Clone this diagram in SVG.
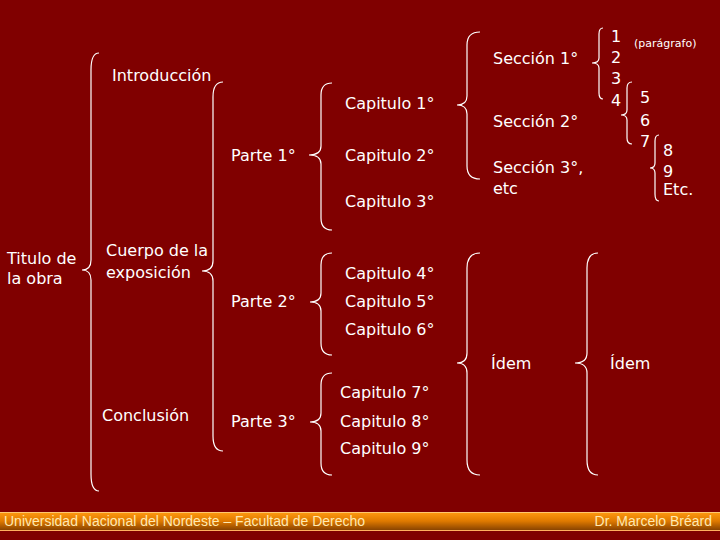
<svg xmlns="http://www.w3.org/2000/svg" width="720" height="540" viewBox="0 0 720 540">
<defs>
<linearGradient id="footerGrad" x1="0" y1="0" x2="0" y2="1">
<stop offset="0" stop-color="#ff9a10"/>
<stop offset="0.5" stop-color="#e07a00"/>
<stop offset="1" stop-color="#8a4400"/>
</linearGradient>
<style>
.t{font-family:"DejaVu Sans","Liberation Sans",sans-serif;font-size:16px;fill:#ffffff}
.s{font-family:"DejaVu Sans","Liberation Sans",sans-serif;font-size:11px;fill:#ffffff}
.b{fill:none;stroke:#ffffff;stroke-width:1.2}
.f{font-family:"Liberation Sans",Arial,sans-serif;font-size:14px;fill:#ffe9b0}
</style>
</defs>
<rect width="720" height="540" fill="#800000"/>
<g id="connectors">
<path class="b" d="M99,53 Q91,53 91,70 L91,260 Q91,270 82,270 Q91,270 91,280 L91,474 Q91,491 99,491"/>
<path class="b" d="M223,82 Q213,82 213,97 L213,261 Q213,271 202,271 Q213,271 213,281 L213,436 Q213,451 223,451"/>
<path class="b" d="M332,83 Q321,83 321,95 L321,146 Q321,155 309,155 Q321,155 321,164 L321,218 Q321,230 332,230"/>
<path class="b" d="M332,253 Q321,253 321,265 L321,293 Q321,302 310,302 Q321,302 321,311 L321,343 Q321,355 332,355"/>
<path class="b" d="M332,373 Q321,373 321,385 L321,413 Q321,422 310,422 Q321,422 321,431 L321,463 Q321,475 332,475"/>
<path class="b" d="M480,32 Q467,32 467,45 L467,96 Q467,105 457,105 Q467,105 467,114 L467,166 Q467,179 480,179"/>
<path class="b" d="M603,28 Q599,28 599,34 L599,58 Q599,63 592,63 Q599,63 599,68 L599,93 Q599,99 603,99"/>
<path class="b" d="M632,82 Q627,82 627,88 L627,110 Q627,115 621,115 Q627,115 627,120 L627,138 Q627,144 632,144"/>
<path class="b" d="M659,135 Q655,135 655,141 L655,163 Q655,168 650,168 Q655,168 655,173 L655,194 Q655,201 659,201"/>
<path class="b" d="M480,253 Q467,253 467,268 L467,353 Q467,363 457,363 Q467,363 467,373 L467,460 Q467,475 480,475"/>
<path class="b" d="M598,253 Q587,253 587,268 L587,353 Q587,363 575,363 Q587,363 587,373 L587,460 Q587,475 598,475"/>
</g>
<g id="titulo"><text class="t" x="7" y="264">Titulo de</text><text class="t" x="7" y="284">la obra</text></g>
<g id="introduccion"><text class="t" x="112" y="81">Introducción</text></g>
<g id="cuerpo"><text class="t" x="106" y="256">Cuerpo de la</text><text class="t" x="106" y="278">exposición</text></g>
<g id="conclusion"><text class="t" x="102" y="421">Conclusión</text></g>
<g id="parte1"><text class="t" x="231" y="161">Parte 1°</text></g>
<g id="parte2"><text class="t" x="231" y="307">Parte 2°</text></g>
<g id="parte3"><text class="t" x="231" y="427">Parte 3°</text></g>
<g id="cap1"><text class="t" x="345" y="109">Capitulo 1°</text></g>
<g id="cap2"><text class="t" x="345" y="161">Capitulo 2°</text></g>
<g id="cap3"><text class="t" x="345" y="207">Capitulo 3°</text></g>
<g id="cap4"><text class="t" x="345" y="279">Capitulo 4°</text></g>
<g id="cap5"><text class="t" x="345" y="307">Capitulo 5°</text></g>
<g id="cap6"><text class="t" x="345" y="335">Capitulo 6°</text></g>
<g id="cap7"><text class="t" x="340" y="398">Capitulo 7°</text></g>
<g id="cap8"><text class="t" x="340" y="427">Capitulo 8°</text></g>
<g id="cap9"><text class="t" x="340" y="454">Capitulo 9°</text></g>
<g id="seccion1"><text class="t" x="493" y="64">Sección 1°</text></g>
<g id="seccion2"><text class="t" x="493" y="127">Sección 2°</text></g>
<g id="seccion3"><text class="t" x="493" y="173">Sección 3°,</text><text class="t" x="493" y="194">etc</text></g>
<g id="idem1"><text class="t" x="491" y="369">Ídem</text></g>
<g id="idem2"><text class="t" x="610" y="369">Ídem</text></g>
<g id="p1"><text class="t" x="611" y="42">1</text></g>
<g id="parrafo"><text class="s" x="634" y="47">(parágrafo)</text></g>
<g id="p2"><text class="t" x="611" y="63">2</text></g>
<g id="p3"><text class="t" x="611" y="84">3</text></g>
<g id="p4"><text class="t" x="611" y="106">4</text></g>
<g id="p5"><text class="t" x="640" y="103">5</text></g>
<g id="p6"><text class="t" x="640" y="126">6</text></g>
<g id="p7"><text class="t" x="640" y="147">7</text></g>
<g id="p8"><text class="t" x="663" y="156">8</text></g>
<g id="p9"><text class="t" x="663" y="177">9</text></g>
<g id="petc"><text class="t" x="663" y="195">Etc.</text></g>
<g id="footer">
<rect x="0" y="512" width="720" height="18" fill="url(#footerGrad)"/>
<line x1="0" y1="512.5" x2="720" y2="512.5" stroke="#ffc870" stroke-width="1"/>
<line x1="0" y1="530.5" x2="720" y2="530.5" stroke="#ffb060" stroke-width="1"/>
<text class="f" x="4" y="526">Universidad Nacional del Nordeste – Facultad de Derecho</text>
<text class="f" x="712" y="526" text-anchor="end">Dr. Marcelo Bréard</text>
</g>
</svg>
